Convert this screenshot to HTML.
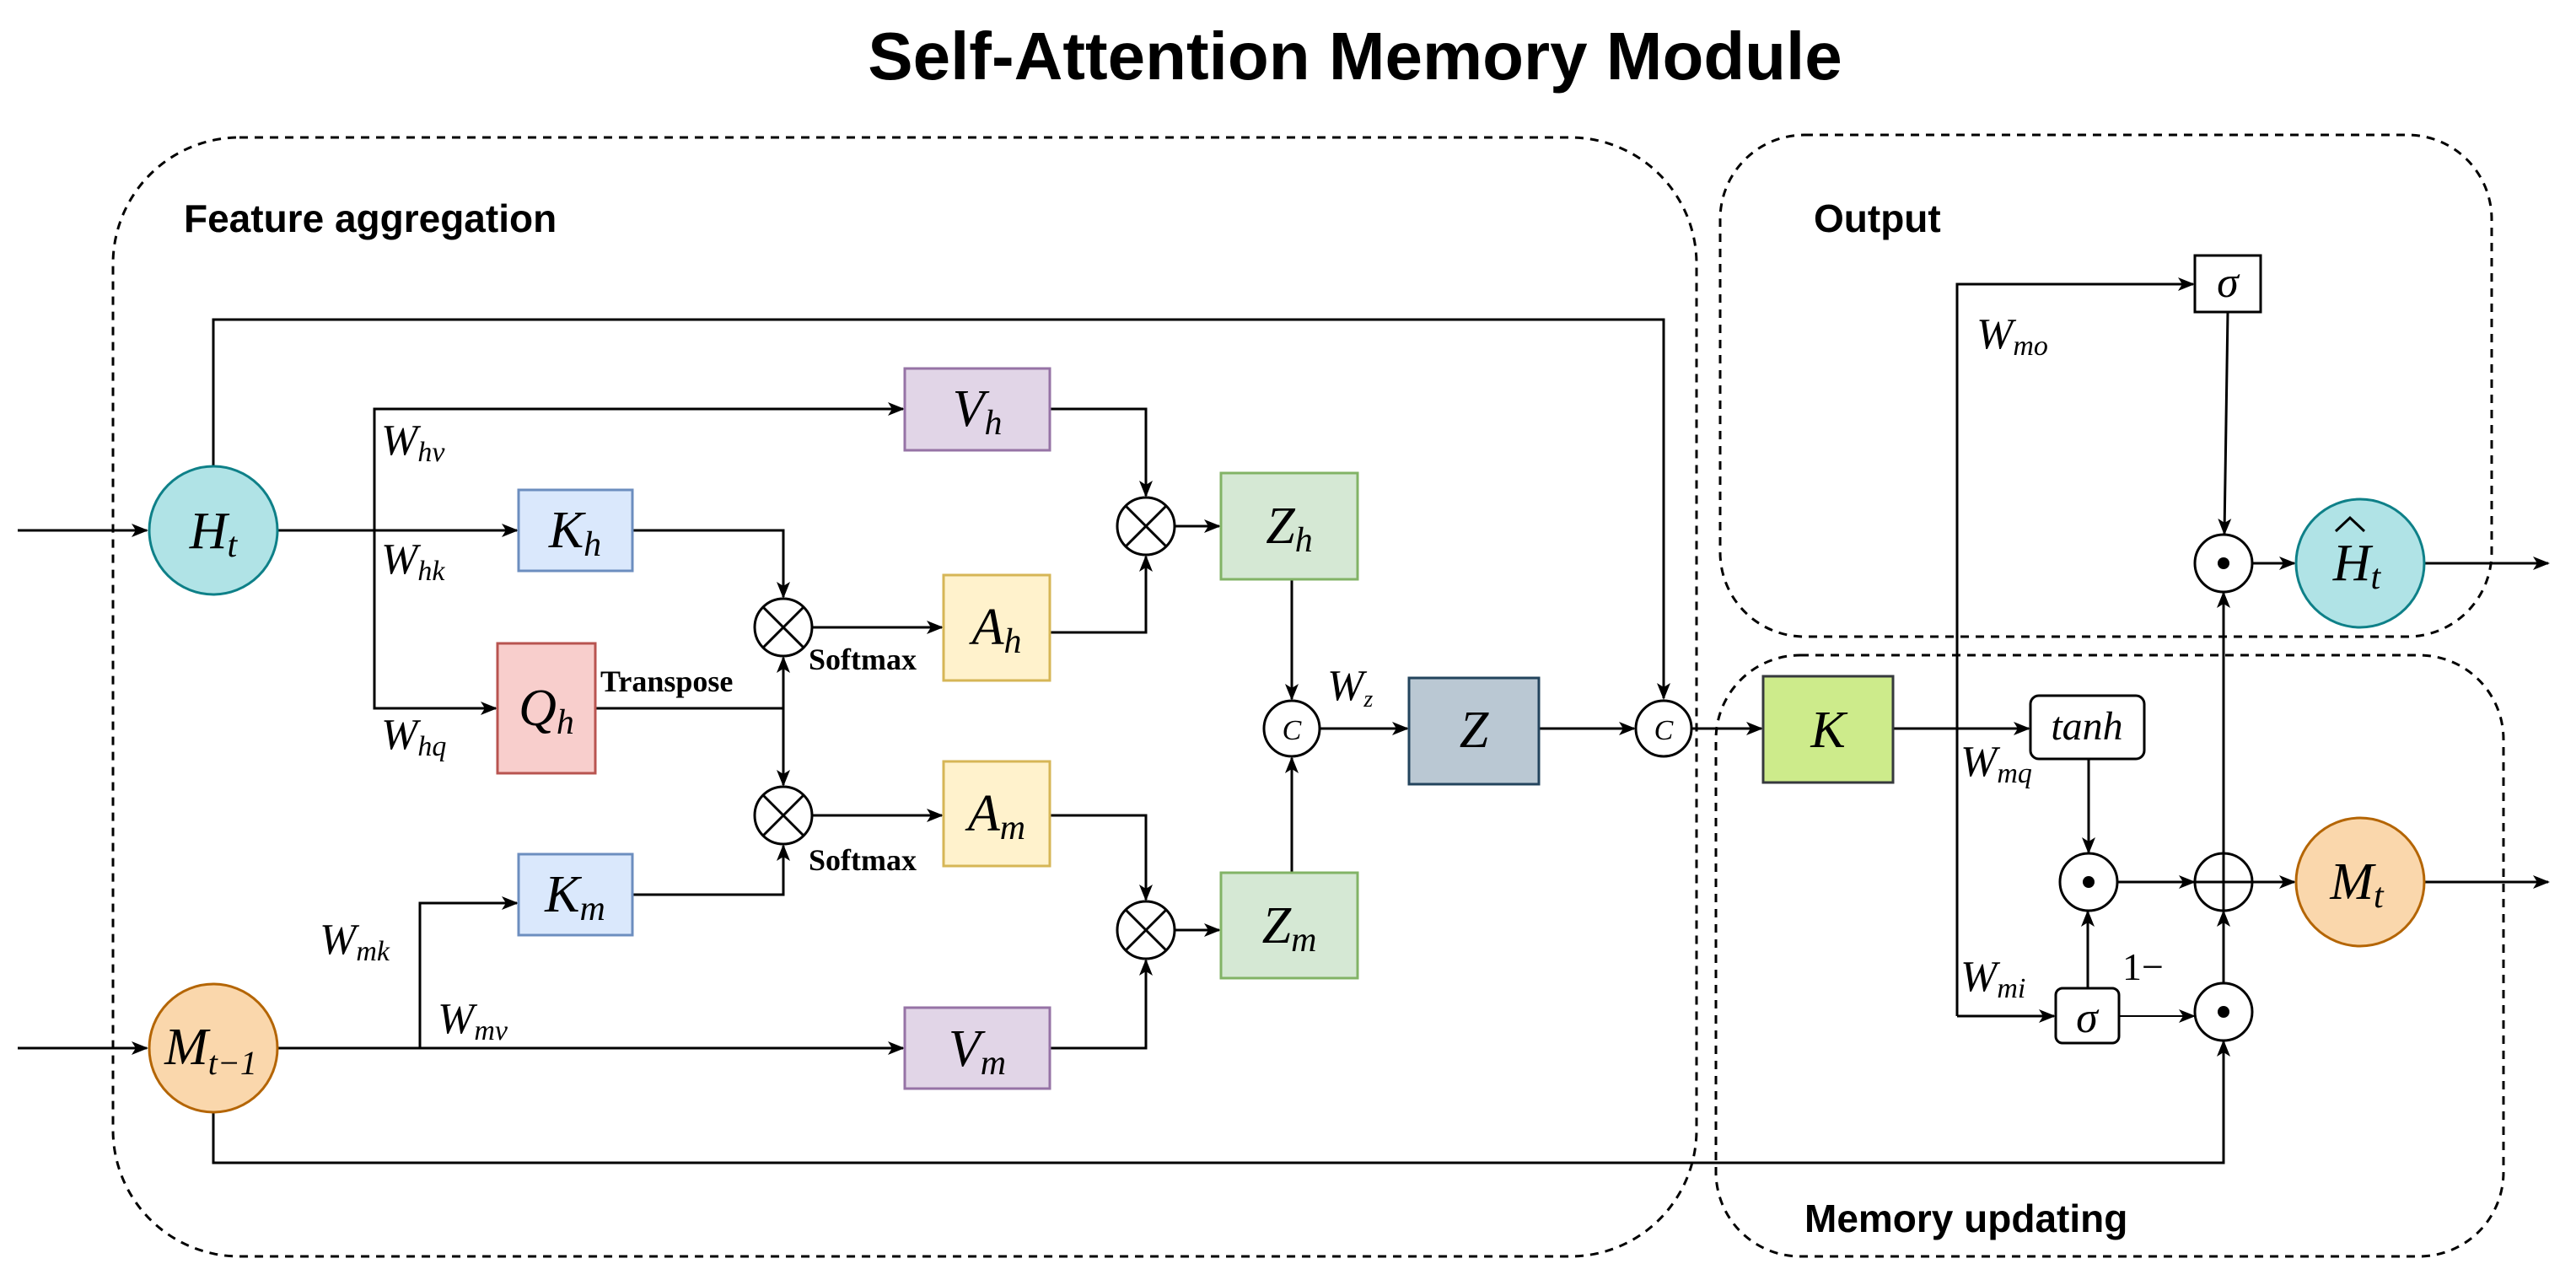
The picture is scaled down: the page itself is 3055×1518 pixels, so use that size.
<!DOCTYPE html>
<html><head><meta charset="utf-8"><style>
html,body{margin:0;padding:0;background:#fff;}
svg{display:block;}
.m{font-family:"Liberation Serif",serif;font-style:italic;}
.b{font-family:"Liberation Sans",sans-serif;font-weight:bold;}
</style></head><body>
<svg width="3055" height="1518" viewBox="0 0 3055 1518" xmlns="http://www.w3.org/2000/svg">
<defs>
<marker id="a" markerWidth="20" markerHeight="16" refX="18" refY="8" orient="auto" markerUnits="userSpaceOnUse">
<path d="M0,0 L20,8 L0,16 L5,8 Z" fill="#000"/></marker>
</defs>
<rect width="3055" height="1518" fill="#fff"/>
<text x="1607" y="94" text-anchor="middle" class="b" font-size="80">Self-Attention Memory Module</text>

<g fill="none" stroke="#000" stroke-width="3" stroke-dasharray="10,8">
<rect x="134" y="163" width="1878" height="1327" rx="150"/>
<rect x="2040" y="160" width="915" height="595" rx="100"/>
<rect x="2035" y="777" width="934" height="713" rx="100"/>
</g>
<text x="218" y="275" class="b" font-size="46">Feature aggregation</text>
<text x="2151" y="275" class="b" font-size="46">Output</text>
<text x="2140" y="1461" class="b" font-size="46">Memory updating</text>

<g fill="none" stroke="#000" stroke-width="3">
<path d="M21,629 H174" marker-end="url(#a)"/>
<path d="M21,1243 H174" marker-end="url(#a)"/>
<path d="M253,553 V379 H1973 V828" marker-end="url(#a)"/>
<path d="M329,629 H613" marker-end="url(#a)"/>
<path d="M444,629 V485 H1071" marker-end="url(#a)"/>
<path d="M444,629 V840 H588" marker-end="url(#a)"/>
<path d="M750,629 H929 V708" marker-end="url(#a)"/>
<path d="M706,840 H929"/>
<path d="M929,840 V780" marker-end="url(#a)"/>
<path d="M929,840 V931" marker-end="url(#a)"/>
<path d="M329,1243 H1071" marker-end="url(#a)"/>
<path d="M498,1243 V1071 H613" marker-end="url(#a)"/>
<path d="M750,1061 H929 V1003" marker-end="url(#a)"/>
<path d="M963,744 H1117" marker-end="url(#a)"/>
<path d="M963,967 H1117" marker-end="url(#a)"/>
<path d="M1245,485 H1359 V588" marker-end="url(#a)"/>
<path d="M1245,750 H1359 V660" marker-end="url(#a)"/>
<path d="M1245,967 H1359 V1067" marker-end="url(#a)"/>
<path d="M1245,1243 H1359 V1139" marker-end="url(#a)"/>
<path d="M1393,624 H1446" marker-end="url(#a)"/>
<path d="M1393,1103 H1446" marker-end="url(#a)"/>
<path d="M1532,687 V829" marker-end="url(#a)"/>
<path d="M1532,1035 V899" marker-end="url(#a)"/>
<path d="M1565,864 H1669" marker-end="url(#a)"/>
<path d="M1825,864 H1938" marker-end="url(#a)"/>
<path d="M2006,864 H2089" marker-end="url(#a)"/>
<path d="M2245,864 H2406" marker-end="url(#a)"/>
<path d="M2321,1205 V337 H2601" marker-end="url(#a)"/>
<path d="M2321,1205 H2436" marker-end="url(#a)"/>
<path d="M2642,370 L2638,633" marker-end="url(#a)"/>
<path d="M2671,668 H2721" marker-end="url(#a)"/>
<path d="M2875,668 H3022" marker-end="url(#a)"/>
<path d="M2477,900 V1011" marker-end="url(#a)"/>
<path d="M2476,1172 V1081" marker-end="url(#a)"/>
<path d="M2511,1046 H2602" marker-end="url(#a)"/>
<path d="M2671,1046 H2721" marker-end="url(#a)"/>
<path d="M2875,1046 H3022" marker-end="url(#a)"/>
<path d="M2637,1166 V1081" marker-end="url(#a)"/>
<path d="M2637,1012 V703" marker-end="url(#a)"/>
<path d="M2513,1205 H2602" stroke-width="2" marker-end="url(#a)"/>
<path d="M253,1319 V1379 H2637 V1235" marker-end="url(#a)"/>
</g>

<circle cx="253" cy="629" r="76" fill="#b0e3e6" stroke="#0e8088" stroke-width="3"/>
<circle cx="253" cy="1243" r="76" fill="#fad7ac" stroke="#b46504" stroke-width="3"/>
<circle cx="2799" cy="668" r="76" fill="#b0e3e6" stroke="#0e8088" stroke-width="3"/>
<circle cx="2799" cy="1046" r="76" fill="#fad7ac" stroke="#b46504" stroke-width="3"/>

<g stroke-width="3">
<rect x="1073" y="437" width="172" height="97" fill="#e1d5e7" stroke="#9673a6"/>
<rect x="1073" y="1195" width="172" height="96" fill="#e1d5e7" stroke="#9673a6"/>
<rect x="615" y="581" width="135" height="96" fill="#dae8fc" stroke="#6c8ebf"/>
<rect x="615" y="1013" width="135" height="96" fill="#dae8fc" stroke="#6c8ebf"/>
<rect x="590" y="763" width="116" height="154" fill="#f8cecc" stroke="#b85450"/>
<rect x="1119" y="682" width="126" height="125" fill="#fff2cc" stroke="#d6b656"/>
<rect x="1119" y="903" width="126" height="124" fill="#fff2cc" stroke="#d6b656"/>
<rect x="1448" y="561" width="162" height="126" fill="#d5e8d4" stroke="#82b366"/>
<rect x="1448" y="1035" width="162" height="125" fill="#d5e8d4" stroke="#82b366"/>
<rect x="1671" y="804" width="154" height="126" fill="#bac8d3" stroke="#23445d"/>
<rect x="2091" y="802" width="154" height="126" fill="#cdeb8b" stroke="#36393d"/>
<rect x="2603" y="303" width="78" height="67" fill="#fff" stroke="#000"/>
<rect x="2408" y="825" width="135" height="75" rx="10" fill="#fff" stroke="#000"/>
<rect x="2438" y="1172" width="75" height="65" rx="8" fill="#fff" stroke="#000"/>
</g>

<g fill="#fff" stroke="#000" stroke-width="3">
<circle cx="929" cy="744" r="34"/><path d="M905,720 L953,768 M953,720 L905,768"/>
<circle cx="929" cy="967" r="34"/><path d="M905,943 L953,991 M953,943 L905,991"/>
<circle cx="1359" cy="624" r="34"/><path d="M1335,600 L1383,648 M1383,600 L1335,648"/>
<circle cx="1359" cy="1103" r="34"/><path d="M1335,1079 L1383,1127 M1383,1079 L1335,1127"/>
<circle cx="1532" cy="864" r="33"/>
<circle cx="1973" cy="864" r="33"/>
<circle cx="2637" cy="668" r="34"/>
<circle cx="2477" cy="1046" r="34"/>
<circle cx="2637" cy="1046" r="34" fill="none"/>
<path d="M2603,1046 H2671 M2637,1012 V1080" fill="none"/>
<circle cx="2637" cy="1200" r="34"/>
</g>
<g fill="#000">
<circle cx="2637" cy="668" r="7"/><circle cx="2477" cy="1046" r="7"/><circle cx="2637" cy="1200" r="7"/>
</g>
<text x="1532" y="877" text-anchor="middle" class="m" font-size="34">C</text>
<text x="1973" y="877" text-anchor="middle" class="m" font-size="34">C</text>

<g class="m" font-size="62" text-anchor="middle">
<text x="253" y="650">H<tspan font-size="42" dy="10">t</tspan></text>
<text x="250" y="1262">M<tspan font-size="40" dy="12">t−1</tspan></text>
<text x="1159" y="505">V<tspan font-size="42" dy="10">h</tspan></text>
<text x="1159" y="1264">V<tspan font-size="42" dy="10">m</tspan></text>
<text x="682" y="649">K<tspan font-size="42" dy="10">h</tspan></text>
<text x="682" y="1081">K<tspan font-size="42" dy="10">m</tspan></text>
<text x="648" y="860">Q<tspan font-size="42" dy="10">h</tspan></text>
<text x="1182" y="764">A<tspan font-size="42" dy="10">h</tspan></text>
<text x="1182" y="985">A<tspan font-size="42" dy="10">m</tspan></text>
<text x="1529" y="644">Z<tspan font-size="42" dy="10">h</tspan></text>
<text x="1529" y="1118">Z<tspan font-size="42" dy="10">m</tspan></text>
<text x="1748" y="886">Z</text>
<text x="2168" y="886">K</text>
<text x="2642" y="352" font-size="52">σ</text>
<text x="2475" y="1224" font-size="52">σ</text>
<text x="2475" y="877" font-size="48">tanh</text>
<text x="2795" y="688">H<tspan font-size="42" dy="10">t</tspan></text>
<text x="2795" y="1066">M<tspan font-size="42" dy="10">t</tspan></text>
</g>
<path d="M2770,630 L2787,614 L2804,630" fill="none" stroke="#000" stroke-width="3"/>

<g class="m" font-size="52">
<text x="452" y="539">W<tspan font-size="34" dy="8">hv</tspan></text>
<text x="452" y="680">W<tspan font-size="34" dy="8">hk</tspan></text>
<text x="452" y="888">W<tspan font-size="34" dy="8">hq</tspan></text>
<text x="379" y="1131">W<tspan font-size="34" dy="8">mk</tspan></text>
<text x="519" y="1225">W<tspan font-size="34" dy="8">mv</tspan></text>
<text x="1574" y="830">W<tspan font-size="28" dy="8">z</tspan></text>
<text x="2344" y="413">W<tspan font-size="34" dy="8">mo</tspan></text>
<text x="2325" y="920">W<tspan font-size="34" dy="8">mq</tspan></text>
<text x="2325" y="1175">W<tspan font-size="34" dy="8">mi</tspan></text>
</g>
<text x="2517" y="1162" font-family="Liberation Serif,serif" font-size="46">1−</text>

<g font-family="Liberation Serif,serif" font-weight="bold" font-size="36">
<text x="712" y="820">Transpose</text>
<text x="959" y="794">Softmax</text>
<text x="959" y="1032">Softmax</text>
</g>
</svg>
</body></html>
